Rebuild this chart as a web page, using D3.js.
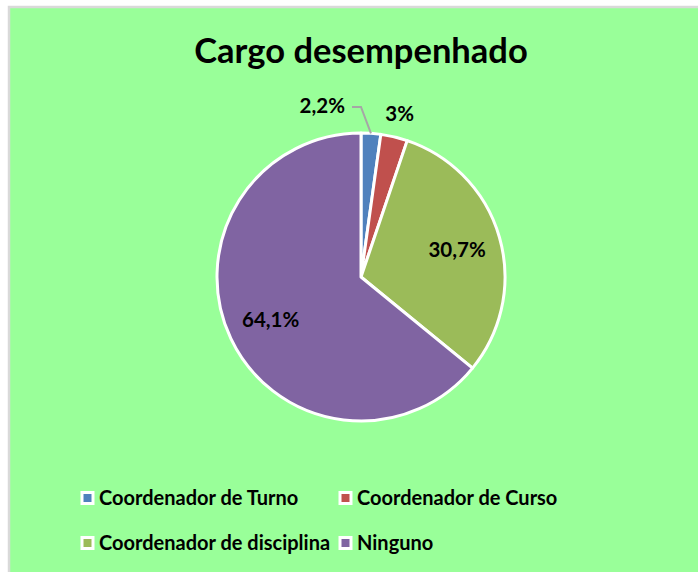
<!DOCTYPE html>
<html lang="es">
  <head>
    <meta charset="utf-8">
    <title>Cargo desempenhado</title>
    <script src="https://d3js.org/d3.v7.min.js"></script>
    <style>
      body { margin: 0; background: #fff; }
      text { font-family: Lato, "Open Sans", sans-serif; font-weight: bold; fill: #000; }
    </style>
  </head>
  <body>
    <svg id="chart"></svg>
    <script type="text/javascript">
      // data
      let categories = ["Coordenador de Turno", "Coordenador de Curso", "Coordenador de disciplina", "Ninguno"];
      let values = [2.2, 3, 30.7, 64.1];
      let labels = ["2,2%", "3%", "30,7%", "64,1%"];
      let colors = ["#4F81BD", "#C0504D", "#9BBB59", "#8064A2"];

      let svgW = 698, svgH = 572;
      let cx = 361, cy = 277, radius = 144;

      let svg = d3.select("#chart")
                  .attr("width", svgW)
                  .attr("height", svgH);

      // chart area
      svg.append("rect")
         .attr("x", 9).attr("y", 7)
         .attr("width", 720).attr("height", 600)
         .attr("fill", "#99FF99")
         .attr("stroke", "#D9D9D9")
         .attr("stroke-width", 2.5);

      svg.append("text")
         .attr("x", cx).attr("y", 63)
         .attr("text-anchor", "middle")
         .style("font-size", "34.5px")
         .text("Cargo desempenhado");

      // pie
      let g = svg.append("g")
                 .attr("transform", "translate(" + cx + "," + cy + ")");

      let pie = d3.pie().sort(null).value(d => d);
      let arcs = pie(values);

      let path = d3.arc().innerRadius(0).outerRadius(radius);

      g.selectAll("path")
       .data(arcs)
       .enter()
       .append("path")
       .attr("d", path)
       .attr("fill", (d, i) => colors[i])
       .attr("stroke", "#fff")
       .attr("stroke-width", 3)
       .attr("stroke-linejoin", "round");

      // inside labels
      let inner = d3.arc().innerRadius(100).outerRadius(100);
      g.selectAll("text.in")
       .data(arcs.slice(2))
       .enter()
       .append("text")
       .attr("class", "in")
       .attr("transform", d => "translate(" + inner.centroid(d) + ")")
       .attr("text-anchor", "middle")
       .attr("dy", "0.36em")
       .style("font-size", "20.5px")
       .text((d, i) => labels[i + 2]);

      // red slice label, outside
      let outer = d3.arc().innerRadius(168).outerRadius(168);
      g.append("text")
       .attr("transform", "translate(" + outer.centroid(arcs[1]) + ")")
       .attr("text-anchor", "middle")
       .attr("dy", "0.36em")
       .style("font-size", "20.5px")
       .text(labels[1]);

      // blue slice label with leader line
      let b = arcs[0];
      let mid = (b.startAngle + b.endAngle) / 2;
      let p0 = [Math.sin(mid) * radius, -Math.cos(mid) * radius];
      let p1 = [Math.sin(b.startAngle) * 170, -Math.cos(b.startAngle) * 170];
      let p2 = [p1[0] - 9, p1[1]];
      g.append("polyline")
       .attr("points", [p0, p1, p2].join(" "))
       .attr("fill", "none")
       .attr("stroke", "#A6A6A6")
       .attr("stroke-width", 2);
      g.append("text")
       .attr("x", p2[0] - 7).attr("y", p2[1])
       .attr("text-anchor", "end")
       .attr("dy", "0.3em")
       .style("font-size", "20.5px")
       .text(labels[0]);

      // legend
      let legX = [80, 338], legY = [498, 543];
      let leg = svg.selectAll("g.leg")
                   .data(categories)
                   .enter()
                   .append("g")
                   .attr("class", "leg")
                   .attr("transform", (d, i) => "translate(" + legX[i % 2] + "," + legY[Math.floor(i / 2)] + ")");

      leg.append("rect")
         .attr("x", 2).attr("y", -5.5)
         .attr("width", 11).attr("height", 11)
         .attr("fill", (d, i) => colors[i])
         .attr("stroke", "#fff")
         .attr("stroke-width", 3);

      leg.append("text")
         .attr("x", 19)
         .attr("dy", "0.36em")
         .style("font-size", "20px")
         .text(d => d);
    </script>
  </body>
</html>
